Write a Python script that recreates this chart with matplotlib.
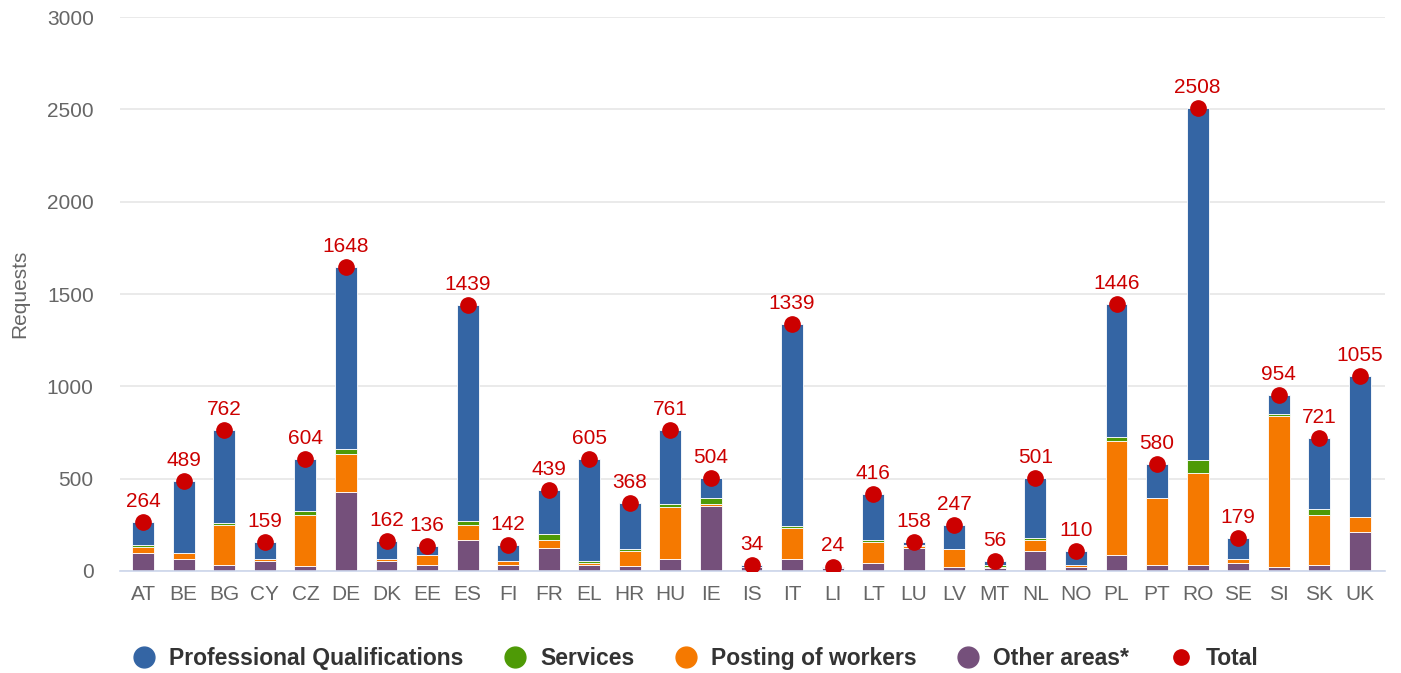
import numpy as np
import matplotlib.pyplot as plt
from matplotlib.lines import Line2D

plt.rcParams['font.family'] = ['Liberation Sans', 'DejaVu Sans']

countries = ['AT', 'BE', 'BG', 'CY', 'CZ', 'DE', 'DK', 'EE', 'ES', 'FI', 'FR', 'EL', 'HR', 'HU', 'IE',
             'IS', 'IT', 'LI', 'LT', 'LU', 'LV', 'MT', 'NL', 'NO', 'PL', 'PT', 'RO', 'SE', 'SI', 'SK', 'UK']
# values
other    = [100, 67, 34, 56, 25, 429, 54, 32, 168, 32, 126, 34, 25, 67, 354,
            24, 67, 18, 43, 125, 23, 16, 110, 23, 87, 34, 34, 45, 23, 34, 211]
posting  = [30, 30, 217, 9, 277, 203, 11, 55, 83, 22, 42, 9, 85, 278, 10,
            0, 164, 0, 114, 9, 96, 5, 58, 11, 617, 361, 497, 20, 815, 269, 81]
services = [10, 2, 9, 0, 23, 30, 0, 0, 21, 0, 32, 11, 9, 19, 31,
            0, 11, 0, 11, 7, 0, 10, 11, 0, 23, 0, 70, 0, 10, 31, 0]
prof     = [124, 390, 502, 94, 279, 986, 97, 49, 1167, 88, 239, 551, 249, 397, 109,
            10, 1097, 6, 248, 17, 128, 25, 322, 76, 719, 185, 1907, 114, 106, 387, 763]
total    = [264, 489, 762, 159, 604, 1648, 162, 136, 1439, 142, 439, 605, 368, 761, 504,
            34, 1339, 24, 416, 158, 247, 56, 501, 110, 1446, 580, 2508, 179, 954, 721, 1055]

c_prof, c_serv, c_post, c_other, c_tot = '#3465a4', '#4e9a06', '#f57900', '#75507b', '#cc0000'

fig = plt.figure(figsize=(14.01, 6.73), dpi=100)
ax = fig.add_axes([0.0857, 0.1516, 0.9029, 0.8231])

x = np.arange(len(countries))
w = 0.54
b = np.zeros(len(x))
for vals, col in [(other, c_other), (posting, c_post), (services, c_serv), (prof, c_prof)]:
    ax.bar(x, vals, w, bottom=b, color=col, edgecolor='white', linewidth=0.6, zorder=2)
    b = b + np.array(vals)

ax.plot(x, total, 'o', color=c_tot, markersize=11, zorder=4, linestyle='none')
for xi, t in zip(x, total):
    ax.annotate(str(t), (xi, t), xytext=(0, 8), textcoords='offset points',
                ha='center', va='bottom', color=c_tot, fontsize=15, zorder=5)

ax.set_xlim(-0.57, 30.62)
ax.set_ylim(0, 3000)
ax.set_yticks(range(0, 3001, 500))
ax.set_xticks(x)
ax.set_xticklabels(countries)
ax.tick_params(axis='both', length=0, labelsize=15, labelcolor='#666666')
ax.tick_params(axis='y', pad=19)
ax.tick_params(axis='x', pad=10)
ax.grid(axis='y', color='#e6e6e6', linewidth=1.2, zorder=0)
for s in ['top', 'right', 'left']:
    ax.spines[s].set_visible(False)
ax.spines['bottom'].set_color('#ccd6eb')
ax.spines['bottom'].set_linewidth(1.2)
ax.set_ylabel('Requests', fontsize=15, color='#666666')
ax.yaxis.set_label_coords(-0.072, 0.5)

handles = [Line2D([], [], marker='o', linestyle='none', color=c, markersize=ms)
           for c, ms in [(c_prof, 15), (c_serv, 15), (c_post, 15), (c_other, 15), (c_tot, 11)]]
labels = ['Professional Qualifications', 'Services', 'Posting of workers', 'Other areas*', 'Total']
leg = fig.legend(handles, labels, loc='center', bbox_to_anchor=(0.494, 0.021), ncol=5,
                 frameon=False, handlelength=1.6, handletextpad=0.3, columnspacing=1.45,
                 prop={'size': 16.5, 'weight': 'bold'})
for t in leg.get_texts():
    t.set_color('#333333')

fig.savefig('out.png', dpi=100)
